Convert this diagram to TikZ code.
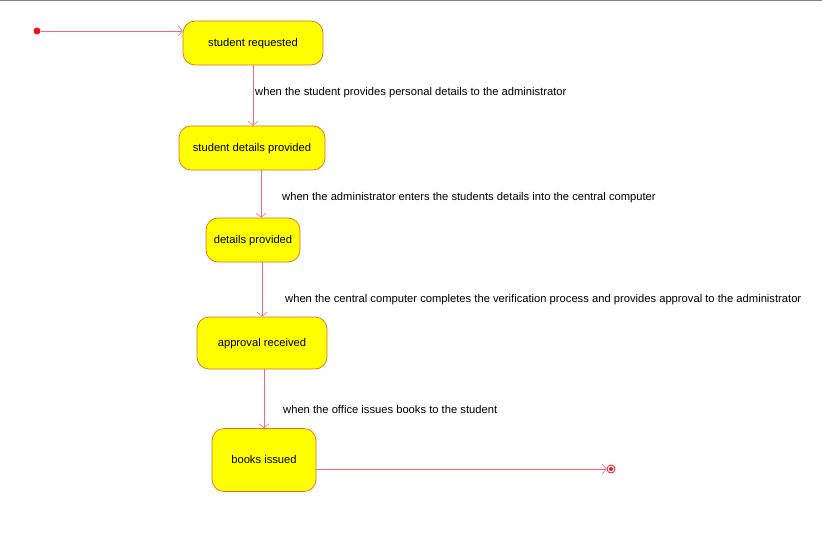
\documentclass[tikz,border=0pt]{standalone}
\usepackage{fontspec}
\setmainfont{Liberation Sans}
\usetikzlibrary{arrows.meta}
\usetikzlibrary{positioning}
\definecolor{stateline}{RGB}{225,110,40}
\definecolor{stateyellow}{RGB}{255,255,0}
\definecolor{transred}{RGB}{238,110,120}
\definecolor{pointred}{RGB}{235,20,30}
\begin{document}
\begin{tikzpicture}[x=1pt,y=1pt,font=\fontsize{11.2}{13}\selectfont]
\tikzstyle{state} = [rectangle, draw=stateline, line width=0.7pt, fill=stateyellow,
rounded corners=12pt, minimum height=44pt, inner sep=2pt, text height=9.5pt, text depth=2pt]
\tikzstyle{trans} = [draw=transred, line width=0.6pt, -{Straight Barb[length=4pt,width=10pt]}]
\tikzstyle{guard} = [anchor=west, inner sep=0pt]
\useasboundingbox (0,0) rectangle (822,-559);
\draw[gray, line width=1.5pt] (0,0) -- (822,0);
% initial and final states
\node [circle, fill=pointred, minimum size=7pt, inner sep=0pt] (start) at (37,-31) {};
\node [circle, draw=pointred, fill=white, line width=0.8pt, minimum size=8pt, inner sep=0pt] (final) at (611,-469) {};
\node [circle, fill=pointred, minimum size=4pt, inner sep=0pt] at (final) {};
% states
\node [state, minimum width=140pt] (requested) at (253,-43) {student requested};
\node [state, minimum width=146pt] (provided) at (252,-148) {student details provided};
\node [state, minimum width=94pt] (details) at (253,-240) {details provided};
\node [state, minimum width=130pt, minimum height=52pt] (approval) at (262,-343) {approval received};
\node [state, minimum width=104pt, minimum height=63pt] (books) at (264,-460) {books issued};
% guards
\node [guard] (g1) at (255,-93) {when the student provides personal details to the administrator};
\node [guard] (g2) at (282,-198) {when the administrator enters the students details into the central computer};
\node [guard] (g3) at (285,-300) {when the central computer completes the verification process and provides approval to the administrator};
\node [guard] (g4) at (283,-409) {when the office issues books to the student};
% transitions
\draw [trans] (start) -- (requested.west |- start);
\draw [trans] (requested.south) -- (provided.north -| requested.south);
\draw [trans] ([xshift=9pt]provided.south) -- ([xshift=8pt]details.north);
\draw [trans] ([xshift=9pt]details.south) -- (approval.north);
\draw [trans] ([xshift=2pt]approval.south) -- (books.north);
\draw [trans] (books.east |- final) -- (final.west);
\end{tikzpicture}
\end{document}
